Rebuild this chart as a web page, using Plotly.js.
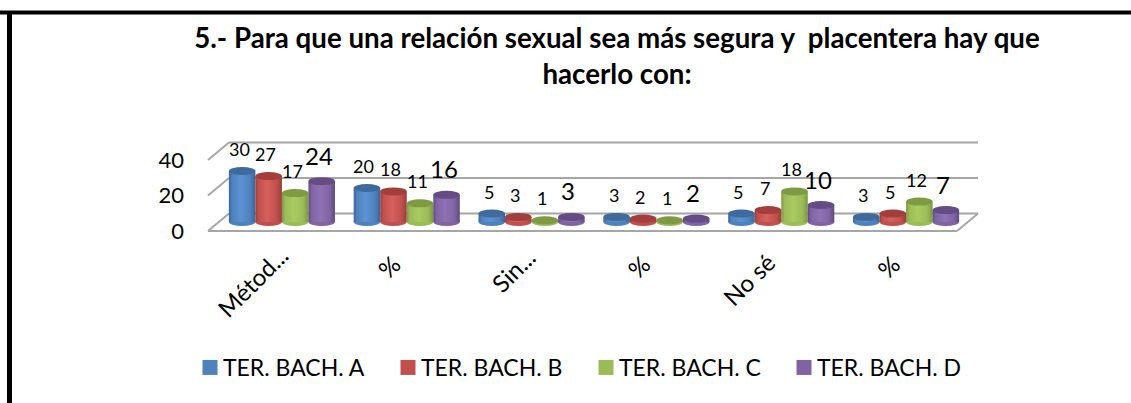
<!DOCTYPE html>
<html><head><meta charset="utf-8">
<script src="https://cdn.plot.ly/plotly-3.0.1.min.js"></script>
<style>html,body{margin:0;padding:0;background:#fff}</style></head>
<body><div id="chart" style="width:1131px;height:403px"></div>
<script>
const titleText = "5.- Para que una relación sexual sea más segura y \u00a0placentera hay que<br>hacerlo con:";
const categories = ["Métod...", "%", "Sin...", "%", "No sé", "%"];
const seriesNames = ["TER. BACH. A", "TER. BACH. B", "TER. BACH. C", "TER. BACH. D"];
const terA = [30, 20, 5, 3, 5, 3];
const terB = [27, 18, 3, 2, 7, 5];
const terC = [17, 11, 1, 1, 18, 12];
const terD = [24, 16, 3, 2, 10, 7];
const seriesValues = [terA, terB, terC, terD];
const yTicks = [0, 20, 40];
const labelNudge = [0.09, -0.01, 0.07, -0.01, -0.01, -0.01];
const labelDrop = [1, 10, 3, 10, 8, 10];
const solid = ["#4F81BD", "#C0504D", "#9BBB59", "#8064A2"];
const light = ["#5B93D3", "#D6605C", "#A9CB61", "#8F72B4"];
const dark = ["#3A6496", "#9A3D3A", "#7C9743", "#5F4A7D"];
const capCol = ["#3F6A9C", "#A23F3C", "#7E9A42", "#654C85"];
const labelSize = [18, 18, 18, 24];

const W = 1131, H = 403;
const fx = p => p / W, fy = p => 1 - p / H;
const frontL = 208, frontR = 957, front0 = 231, front40 = 160;
const depthPxX = 21, depthPxY = 17.5, padPx = 4;
const shiftX = 11.5, barBase = 222, barTop = 154;
const bargap = 0.15, bw = (1 - bargap) / 4;
const unitX = (frontR - frontL) / categories.length, unitY = (front0 - front40) / 40;
const unitY2 = (barBase - barTop) / 40;
const depthX = depthPxX / unitX, depthY = depthPxY / unitY;
const padX = padPx / unitX, padY = padPx / unitY;
const capUnits = 8 / unitY2;
const pad2 = 8 / unitY2;
const xIdx = categories.map((_, i) => i);

const shapes = [];
const frameLine = {color: "#A6A6A6", width: 2};
function seg(x0, y0, x1, y1) { shapes.push({type: "line", xref: "x", yref: "y", x0, y0, x1, y1, line: frameLine, layer: "below"}); }
yTicks.forEach(v => {
  seg(-0.5 + depthX, v + depthY, 5.5 + depthX, v + depthY);
  seg(-0.5, v, -0.5 + depthX, v + depthY);
});
seg(-0.5, 0, 5.5, 0);
seg(5.5, 0, 5.5 + depthX, depthY);

const bottomIdx = [];
seriesValues.forEach((vals, s) => vals.forEach((v, i) => {
  const c = i + (s - 1.5) * bw;
  bottomIdx.push([shapes.length, s]);
  shapes.push({type: "circle", xref: "x2", yref: "y2", x0: c - bw / 2, x1: c + bw / 2, y0: -capUnits / 2, y1: capUnits / 2,
    fillcolor: solid[s], line: {width: 0}, layer: "below"});
}));
seriesValues.forEach((vals, s) => vals.forEach((v, i) => {
  const c = i + (s - 1.5) * bw;
  shapes.push({type: "circle", xref: "x2", yref: "y2", x0: c - bw / 2, x1: c + bw / 2, y0: v - capUnits / 2, y1: v + capUnits / 2,
    fillcolor: capCol[s], line: {width: 0}, layer: "above"});
}));
// page border
shapes.push({type: "line", xref: "paper", yref: "paper", x0: fx(0), x1: fx(W), y0: fy(12.5), y1: fy(12.5), line: {color: "#000", width: 4}, layer: "above"});
shapes.push({type: "line", xref: "paper", yref: "paper", x0: fx(9.5), x1: fx(9.5), y0: fy(11), y1: fy(H), line: {color: "#000", width: 5}, layer: "above"});

const annotations = [];
seriesValues.forEach((vals, s) => vals.forEach((v, i) => {
  annotations.push({xref: "x2", yref: "y2", x: i + (s - 1.5) * bw, y: v, text: String(v), showarrow: false,
    xshift: -3, yshift: s === 3 ? 26 : 22, yanchor: "middle", xanchor: "center",
    font: {family: "Lato, Carlito, sans-serif", size: labelSize[s], color: "#000"}});
}));

const traces = seriesValues.map((vals, s) => ({
  type: "bar", name: seriesNames[s], x: xIdx, y: vals, xaxis: "x2", yaxis: "y2",
  marker: {color: solid[s], line: {width: 0}}, hoverinfo: "x+y+name", cliponaxis: false
}));
// invisible trace that keeps the front plane axes alive
traces.unshift({type: "scatter", mode: "markers", x: xIdx, y: xIdx.map(() => 0), xaxis: "x", yaxis: "y",
  marker: {opacity: 0, size: 1}, showlegend: false, hoverinfo: "skip"});

const layout = {
  width: W, height: H, margin: {l: 0, r: 0, t: 0, b: 0}, paper_bgcolor: "#fff", plot_bgcolor: "rgba(0,0,0,0)",
  font: {family: "Lato, Carlito, sans-serif", color: "#000"},
  title: {text: titleText, x: 617 / W, xanchor: "center", y: fy(47.5), yanchor: "middle", font: {size: 27.7, color: "#000", weight: 700}},
  barmode: "group", bargap, bargroupgap: 0, showlegend: true,
  xaxis: {domain: [fx(frontL - padPx), fx(frontR + depthPxX + padPx)], range: [-0.5 - padX, 5.5 + depthX + padX], tickmode: "array",
    tickvals: xIdx.map((i) => i + labelNudge[i]), ticktext: categories,
    tickangle: -45, showgrid: false, zeroline: false, showline: false, ticks: "", tickfont: {size: 24}, automargin: false, fixedrange: true, anchor: "y"},
  yaxis: {domain: [fy(front0 + padPx), fy(front40 - depthPxY - padPx)], range: [-padY, 40 + depthY + padY], tickmode: "array", tickvals: yTicks, showgrid: false, zeroline: false,
    showline: false, ticks: "", tickfont: {size: 22}, ticklabelstandoff: 19, automargin: false, fixedrange: true, anchor: "x"},
  xaxis2: {domain: [fx(frontL + shiftX), fx(frontR + shiftX)], range: [-0.5, 5.5], visible: false, fixedrange: true, anchor: "y2"},
  yaxis2: {domain: [fy(barBase + 8), fy(barTop)], range: [-pad2, 40], visible: false, fixedrange: true, anchor: "x2"},
  legend: {orientation: "h", x: fx(183), y: fy(346), xanchor: "left", yanchor: "top", entrywidth: 153, entrywidthmode: "pixels",
    font: {size: 23}, bgcolor: "rgba(0,0,0,0)", traceorder: "normal"},
  shapes, annotations
};

const gd = document.getElementById("chart");
function decorate() {
  const svg = gd.querySelector("svg.main-svg");
  const NS = "http://www.w3.org/2000/svg";
  if (!svg.querySelector("#cyl0")) {
    const defs = document.createElementNS(NS, "defs");
    solid.forEach((_, s) => {
      const g = document.createElementNS(NS, "linearGradient");
      g.setAttribute("id", "cyl" + s);
      [[0, dark[s]], [0.12, solid[s]], [0.45, light[s]], [0.8, solid[s]], [1, dark[s]]].forEach(([o, c]) => {
        const st = document.createElementNS(NS, "stop");
        st.setAttribute("offset", o); st.setAttribute("stop-color", c); g.appendChild(st);
      });
      defs.appendChild(g);
    });
    svg.insertBefore(defs, svg.firstChild);
  }
  gd.querySelectorAll(".barlayer .trace.bars").forEach((t, s) => {
    t.querySelectorAll(".point path").forEach(p => { p.style.fill = "url(#cyl" + s + ")"; });
  });
  bottomIdx.forEach(([idx, s]) => {
    const p = gd.querySelector('.layer-below .shapelayer path[data-index="' + idx + '"]');
    if (p) p.style.fill = "url(#cyl" + s + ")";
  });
  gd.querySelectorAll(".legend .traces").forEach(t => {
    const p = t.querySelector(".legendpoints path, .legendbar path");
    if (p) p.setAttribute("transform", "translate(7,0) " + (p.getAttribute("transform") || "") + " scale(1.25)");
  });
  gd.querySelectorAll(".xaxislayer-above .xtick text, .xtick text").forEach((t, i) => {
    if (i < labelDrop.length) t.setAttribute("transform", "translate(0," + labelDrop[i] + ") " + (t.getAttribute("transform") || ""));
  });
}
Plotly.newPlot(gd, traces, layout, {staticPlot: true, displayModeBar: false}).then(decorate);
</script></body></html>
